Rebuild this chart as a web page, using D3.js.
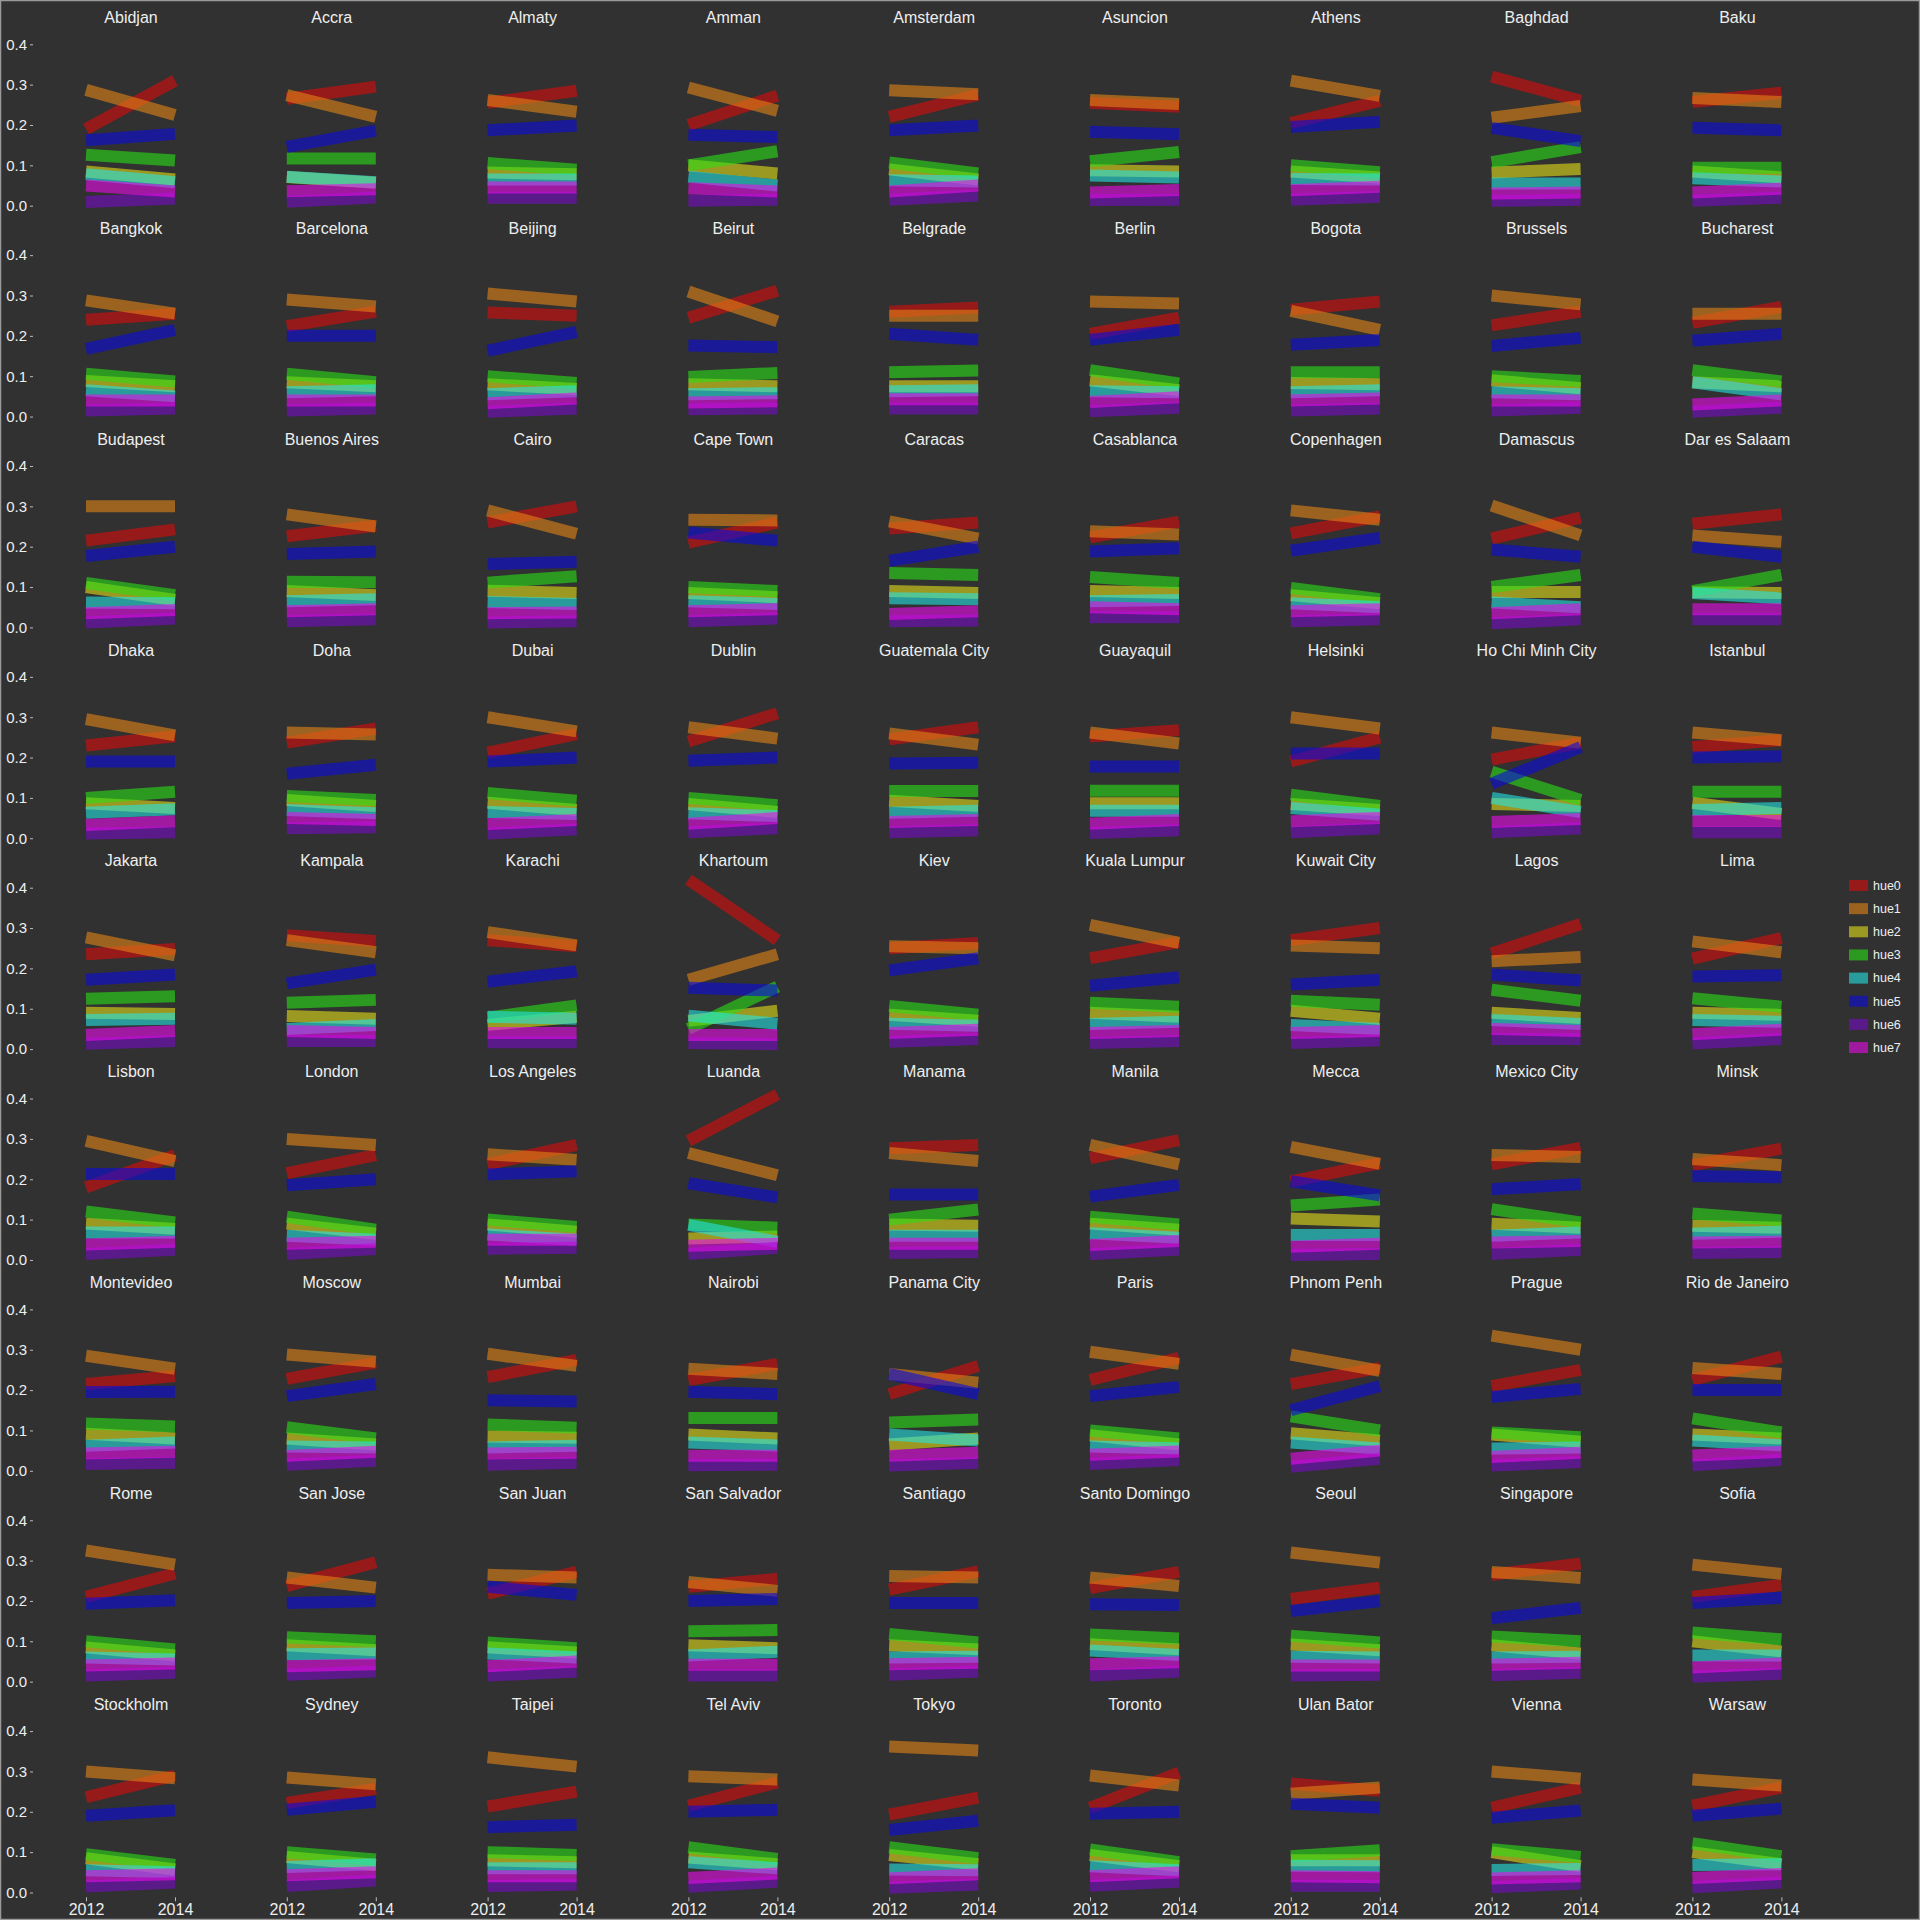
<!DOCTYPE html>
<html>
<head>
<meta charset="utf-8">
<script src="https://cdn.jsdelivr.net/npm/d3@7"></script>
<style>
  html, body { margin: 0; padding: 0; background: #313131; }
  svg { display: block; }
  text { font-family: "Liberation Sans", Arial, Helvetica, sans-serif; }
</style>
</head>
<body>
<svg id="chart" width="1920" height="1920"></svg>
<script>
const cities = ["Abidjan","Accra","Almaty","Amman","Amsterdam","Asuncion","Athens","Baghdad","Baku",
"Bangkok","Barcelona","Beijing","Beirut","Belgrade","Berlin","Bogota","Brussels","Bucharest",
"Budapest","Buenos Aires","Cairo","Cape Town","Caracas","Casablanca","Copenhagen","Damascus","Dar es Salaam",
"Dhaka","Doha","Dubai","Dublin","Guatemala City","Guayaquil","Helsinki","Ho Chi Minh City","Istanbul",
"Jakarta","Kampala","Karachi","Khartoum","Kiev","Kuala Lumpur","Kuwait City","Lagos","Lima",
"Lisbon","London","Los Angeles","Luanda","Manama","Manila","Mecca","Mexico City","Minsk",
"Montevideo","Moscow","Mumbai","Nairobi","Panama City","Paris","Phnom Penh","Prague","Rio de Janeiro",
"Rome","San Jose","San Juan","San Salvador","Santiago","Santo Domingo","Seoul","Singapore","Sofia",
"Stockholm","Sydney","Taipei","Tel Aviv","Tokyo","Toronto","Ulan Bator","Vienna","Warsaw"];

const years = [2012, 2014];
const hueNames = ["hue0","hue1","hue2","hue3","hue4","hue5","hue6","hue7"];
const yTicks = [0.0, 0.1, 0.2, 0.3, 0.4];

// values per city: [2012, 2014]
const hue0 = [[.19,.31],[.265,.295],[.255,.285],[.20,.273],[.22,.275],[.255,.245],[.205,.26],[.32,.26],[.257,.28],
[.24,.255],[.224,.26],[.258,.25],[.245,.312],[.26,.27],[.205,.245],[.265,.285],[.226,.26],[.232,.272],
[.215,.243],[.226,.252],[.26,.30],[.21,.26],[.245,.26],[.223,.262],[.233,.275],[.22,.272],[.257,.28],
[.23,.253],[.237,.272],[.212,.258],[.24,.31],[.245,.275],[.252,.268],[.19,.25],[.195,.237],[.226,.243],
[.235,.248],[.282,.268],[.27,.255],[.42,.27],[.25,.263],[.225,.265],[.27,.30],[.237,.31],[.224,.275],
[.18,.26],[.215,.26],[.237,.285],[.295,.41],[.277,.285],[.252,.297],[.195,.24],[.237,.278],[.235,.276],
[.215,.235],[.228,.268],[.232,.275],[.225,.265],[.19,.26],[.225,.28],[.215,.255],[.21,.25],[.225,.283],
[.21,.268],[.237,.296],[.218,.272],[.235,.255],[.228,.273],[.232,.272],[.205,.233],[.265,.293],[.21,.24],
[.236,.29],[.222,.257],[.213,.25],[.215,.273],[.193,.235],[.21,.297],[.27,.252],[.21,.26],[.215,.26]];

const hue1 = [[.287,.225],[.274,.22],[.262,.233],[.293,.235],[.286,.276],[.262,.252],[.31,.272],[.218,.247],[.267,.257],
[.288,.255],[.29,.273],[.305,.285],[.31,.236],[.25,.25],[.285,.28],[.262,.215],[.30,.278],[.255,.255],
[.30,.30],[.28,.25],[.29,.232],[.267,.265],[.263,.22],[.238,.23],[.29,.267],[.302,.228],[.228,.212],
[.295,.255],[.262,.257],[.30,.265],[.275,.247],[.26,.232],[.262,.235],[.30,.272],[.262,.237],[.262,.243],
[.277,.232],[.27,.24],[.29,.257],[.172,.235],[.255,.25],[.308,.263],[.257,.25],[.218,.228],[.267,.24],
[.295,.245],[.30,.285],[.262,.248],[.265,.21],[.265,.245],[.285,.237],[.28,.238],[.26,.255],[.25,.235],
[.285,.253],[.288,.27],[.29,.26],[.253,.24],[.24,.218],[.295,.265],[.288,.248],[.335,.30],[.255,.24],
[.325,.29],[.258,.233],[.265,.258],[.247,.225],[.262,.258],[.258,.237],[.32,.295],[.272,.257],[.29,.267],
[.30,.283],[.285,.268],[.335,.312],[.288,.28],[.362,.352],[.29,.265],[.245,.26],[.30,.282],[.28,.265]];

const hue2 = [[.085,.065],[.071,.057],[.082,.078],[.10,.08],[.09,.065],[.088,.085],[.085,.07],[.082,.091],[.085,.07],
[.088,.075],[.085,.075],[.08,.068],[.08,.075],[.075,.075],[.09,.065],[.083,.08],[.09,.07],[.085,.075],
[.10,.068],[.09,.08],[.091,.085],[.085,.075],[.09,.085],[.09,.085],[.08,.06],[.088,.088],[.087,.085],
[.087,.075],[.095,.08],[.088,.07],[.085,.065],[.093,.08],[.087,.087],[.085,.07],[.085,.08],[.088,.06],
[.09,.087],[.082,.075],[.06,.08],[.07,.095],[.085,.07],[.09,.08],[.095,.075],[.09,.077],[.09,.085],
[.09,.077],[.09,.065],[.088,.07],[.053,.058],[.088,.085],[.09,.075],[.103,.095],[.09,.08],[.085,.08],
[.092,.08],[.08,.065],[.085,.082],[.09,.08],[.065,.08],[.088,.065],[.093,.075],[.09,.072],[.09,.08],
[.085,.065],[.09,.078],[.085,.072],[.09,.083],[.09,.08],[.093,.08],[.092,.078],[.09,.07],[.10,.075],
[.085,.057],[.088,.068],[.08,.075],[.087,.07],[.093,.07],[.093,.065],[.08,.08],[.10,.065],[.10,.07]];

const hue3 = [[.126,.112],[.117,.117],[.106,.089],[.10,.135],[.107,.08],[.11,.133],[.10,.083],[.108,.145],[.094,.094],
[.106,.087],[.106,.085],[.10,.083],[.098,.108],[.11,.114],[.115,.082],[.11,.11],[.10,.088],[.115,.087],
[.11,.08],[.113,.112],[.111,.127],[.10,.09],[.135,.13],[.125,.11],[.098,.07],[.10,.13],[.09,.13],
[.10,.115],[.105,.095],[.112,.093],[.10,.082],[.117,.117],[.118,.118],[.108,.08],[.165,.095],[.115,.115],
[.125,.131],[.115,.122],[.078,.108],[.05,.155],[.107,.085],[.115,.105],[.12,.11],[.147,.12],[.126,.105],
[.12,.093],[.107,.075],[.10,.082],[.088,.08],[.10,.125],[.107,.088],[.135,.15],[.126,.093],[.115,.098],
[.117,.11],[.108,.08],[.115,.107],[.131,.131],[.12,.127],[.10,.08],[.135,.10],[.095,.083],[.13,.095],
[.10,.08],[.11,.10],[.097,.083],[.125,.128],[.118,.097],[.117,.107],[.114,.097],[.112,.10],[.122,.105],
[.095,.068],[.10,.082],[.10,.093],[.112,.083],[.112,.085],[.107,.075],[.09,.105],[.107,.088],[.122,.09]];

const hue4 = [[.078,.058],[.072,.058],[.065,.065],[.072,.05],[.063,.06],[.075,.07],[.066,.065],[.055,.055],[.068,.06],
[.065,.05],[.06,.065],[.055,.063],[.055,.058],[.063,.065],[.063,.06],[.06,.065],[.06,.055],[.085,.055],
[.062,.06],[.065,.07],[.063,.058],[.065,.058],[.072,.07],[.065,.068],[.06,.05],[.062,.05],[.085,.072],
[.063,.072],[.07,.062],[.065,.06],[.062,.055],[.063,.068],[.068,.068],[.075,.058],[.10,.065],[.07,.075],
[.072,.075],[.05,.06],[.08,.075],[.083,.063],[.063,.058],[.062,.068],[.06,.05],[.072,.062],[.072,.068],
[.068,.068],[.06,.05],[.063,.05],[.087,.045],[.06,.06],[.066,.055],[.062,.062],[.06,.068],[.065,.07],
[.062,.07],[.06,.058],[.058,.062],[.07,.063],[.09,.075],[.06,.055],[.07,.055],[.055,.058],[.075,.063],
[.06,.055],[.068,.07],[.07,.06],[.065,.074],[.06,.062],[.077,.066],[.062,.06],[.06,.062],[.065,.065],
[.055,.05],[.063,.07],[.06,.06],[.075,.06],[.057,.055],[.065,.055],[.066,.065],[.056,.058],[.068,.07]];

const hue5 = [[.162,.178],[.146,.186],[.187,.199],[.176,.17],[.187,.199],[.183,.177],[.195,.208],[.193,.16],[.193,.187],
[.168,.215],[.20,.20],[.163,.21],[.176,.172],[.205,.19],[.19,.215],[.178,.19],[.175,.195],[.188,.205],
[.177,.20],[.182,.188],[.157,.163],[.235,.215],[.165,.20],[.188,.196],[.19,.222],[.193,.175],[.20,.175],
[.19,.19],[.16,.182],[.19,.20],[.192,.20],[.185,.187],[.178,.178],[.21,.21],[.135,.226],[.20,.203],
[.172,.185],[.163,.197],[.167,.193],[.152,.145],[.195,.225],[.157,.178],[.16,.172],[.185,.17],[.18,.183],
[.213,.213],[.185,.20],[.212,.22],[.19,.155],[.162,.162],[.157,.186],[.195,.16],[.175,.188],[.208,.205],
[.195,.196],[.185,.215],[.175,.172],[.196,.19],[.24,.19],[.185,.208],[.15,.21],[.183,.203],[.20,.20],
[.193,.202],[.195,.20],[.235,.215],[.20,.205],[.195,.195],[.192,.19],[.175,.20],[.157,.183],[.195,.208],
[.19,.204],[.205,.225],[.162,.168],[.20,.205],[.155,.178],[.195,.20],[.22,.21],[.185,.203],[.19,.208]];

const hue6 = [[.009,.018],[.01,.02],[.02,.02],[.012,.015],[.015,.025],[.014,.015],[.015,.022],[.012,.015],[.012,.02],
[.015,.02],[.015,.02],[.012,.02],[.018,.02],[.02,.02],[.013,.022],[.015,.02],[.015,.022],[.012,.022],
[.012,.022],[.015,.02],[.012,.015],[.015,.022],[.015,.017],[.025,.025],[.015,.02],[.01,.02],[.02,.02],
[.012,.015],[.025,.027],[.012,.022],[.015,.025],[.015,.02],[.013,.02],[.015,.025],[.015,.025],[.015,.015],
[.013,.02],[.02,.02],[.017,.017],[.015,.012],[.018,.025],[.015,.02],[.015,.022],[.025,.025],[.014,.025],
[.015,.025],[.015,.027],[.028,.03],[.015,.03],[.017,.02],[.014,.026],[.012,.015],[.015,.025],[.017,.02],
[.017,.02],[.015,.025],[.015,.02],[.014,.015],[.013,.02],[.017,.027],[.01,.03],[.013,.022],[.014,.027],
[.015,.022],[.017,.025],[.015,.025],[.015,.015],[.017,.025],[.015,.025],[.015,.017],[.016,.022],[.012,.02],
[.015,.025],[.016,.03],[.016,.02],[.014,.027],[.012,.02],[.017,.027],[.017,.017],[.013,.022],[.013,.025]];

const hue7 = [[.05,.035],[.036,.041],[.045,.045],[.043,.035],[.035,.05],[.033,.039],[.038,.047],[.03,.033],[.033,.042],
[.04,.04],[.04,.04],[.033,.045],[.035,.038],[.043,.043],[.036,.048],[.04,.045],[.04,.04],[.03,.04],
[.035,.043],[.04,.045],[.035,.037],[.04,.045],[.033,.04],[.05,.045],[.04,.045],[.035,.045],[.045,.045],
[.033,.042],[.05,.045],[.035,.045],[.036,.05],[.04,.045],[.036,.045],[.042,.05],[.04,.048],[.043,.043],
[.035,.045],[.045,.04],[.04,.04],[.035,.035],[.04,.048],[.04,.045],[.04,.045],[.05,.045],[.037,.048],
[.038,.045],[.04,.045],[.05,.05],[.035,.04],[.04,.04],[.037,.047],[.033,.04],[.043,.047],[.043,.045],
[.043,.047],[.037,.047],[.043,.045],[.037,.037],[.037,.045],[.04,.048],[.03,.05],[.034,.045],[.038,.047],
[.04,.045],[.038,.043],[.038,.05],[.042,.042],[.043,.047],[.043,.048],[.04,.04],[.042,.047],[.035,.045],
[.04,.045],[.043,.05],[.04,.04],[.036,.047],[.035,.045],[.04,.05],[.04,.038],[.035,.04],[.036,.046]];

const hueValues = [hue0, hue1, hue2, hue3, hue4, hue5, hue6, hue7];
// saturated hue palette, drawn semi-transparent (normal alpha compositing, hue0 first)
const hueColors = ["#db0c0c","#e38416","#e3e018","#29e015","#25e3e3","#0c0cdd","#770cc7","#ea0cea"];
const lineAlpha = 0.6;

const W = 1920, H = 1920;
const nCols = 9;
const colStep = 200.8, rowStep = 210.85;
const svg = d3.select("#chart");

svg.append("rect").attr("x", 0).attr("y", 0).attr("width", W).attr("height", H).attr("fill", "#313131");

const x = d3.scaleLinear().domain(years).range([86, 175]);
const y = d3.scaleLinear().domain([0, 0.4]).range([205.7, 44.3]);
const color = d3.scaleOrdinal().domain(hueNames).range(hueColors);

const line = d3.line().x(d => x(d.year)).y(d => y(d.value));

cities.forEach((city, i) => {
  const col = i % nCols, row = Math.floor(i / nCols);
  const g = svg.append("g").attr("transform", `translate(${col * colStep},${row * rowStep})`);

  g.append("text")
    .attr("x", (x(2012) + x(2014)) / 2 + 0.5)
    .attr("y", 23)
    .attr("text-anchor", "middle")
    .attr("fill", "#eeeeee")
    .attr("font-size", 16)
    .text(city);

  const lg = g.append("g");
  hueNames.forEach((h, k) => {
    const vals = hueValues[k][i];
    const pts = years.map((yr, j) => ({year: yr, value: vals[j]}));
    lg.append("path")
      .datum(pts)
      .attr("d", line)
      .attr("fill", "none")
      .attr("stroke", color(h))
      .attr("stroke-opacity", lineAlpha)
      .attr("stroke-width", 12)
      .attr("stroke-linecap", "butt");
  });

  if (col === 0) {
    const ya = g.append("g").attr("transform", "translate(33,0)")
      .call(d3.axisLeft(y).tickValues(yTicks).tickFormat(d3.format(".1f")).tickSize(3).tickPadding(3));
    ya.select(".domain").remove();
    ya.selectAll("line").attr("stroke", "#bbbbbb");
    ya.selectAll("text").attr("fill", "#eeeeee").attr("font-size", 15)
      .attr("font-family", "Liberation Sans, Arial, sans-serif");
  }
  if (row === 8) {
    const xa = g.append("g").attr("transform", "translate(0,210.5)")
      .call(d3.axisBottom(x).tickValues(years).tickFormat(d3.format("d")).tickSize(4).tickPadding(2));
    xa.select(".domain").remove();
    xa.selectAll("line").attr("stroke", "#bbbbbb");
    xa.selectAll("text").attr("fill", "#eeeeee").attr("font-size", 16)
      .attr("font-family", "Liberation Sans, Arial, sans-serif");
  }
});

// legend
const legend = svg.append("g").attr("transform", "translate(1849,885.5)");
hueNames.forEach((h, k) => {
  const item = legend.append("g").attr("transform", `translate(0,${k * 23.15})`);
  item.append("rect").attr("x", 0).attr("y", -5.5).attr("width", 19).attr("height", 11)
    .attr("fill", color(h)).attr("fill-opacity", lineAlpha);
  item.append("text").attr("x", 24).attr("y", 0).attr("dy", "0.35em")
    .attr("fill", "#eeeeee").attr("font-size", 12.5).text(h);
});

// figure border
svg.append("rect").attr("x", 0.5).attr("y", 0.5).attr("width", W - 1).attr("height", H - 1)
  .attr("fill", "none").attr("stroke", "#9a9a9a").attr("stroke-width", 1.5);
</script>
</body>
</html>
